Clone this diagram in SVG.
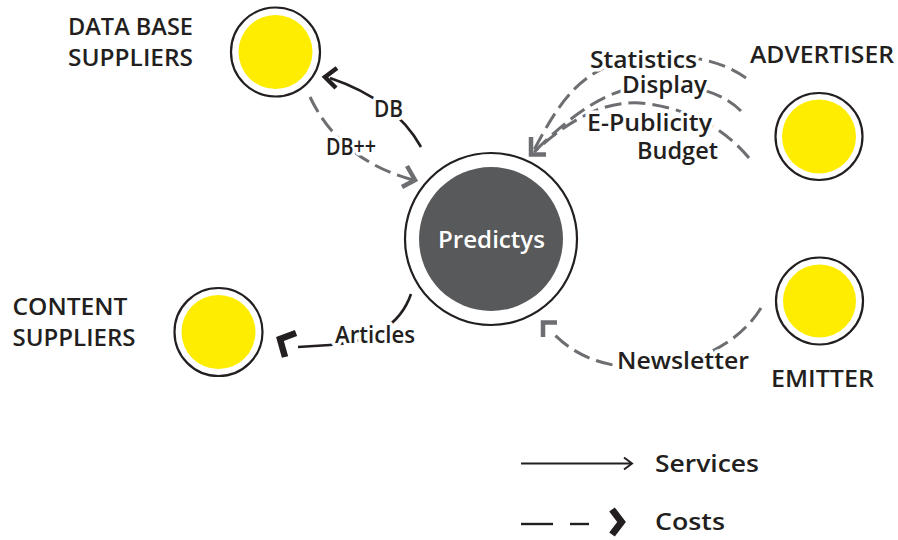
<svg xmlns="http://www.w3.org/2000/svg" width="898" height="540" viewBox="0 0 898 540">
<style>
  text { font-family: "Open Sans", "Noto Sans", "DejaVu Sans", sans-serif; font-weight: 600; fill: #231f20; }
  .lbl { font-size: 23px; }
  .halo { stroke: #ffffff; stroke-width: 7px; paint-order: stroke; stroke-linejoin: round; }
  .ring { fill: #ffffff; stroke: #231f20; stroke-width: 2.2; }
  .yel { fill: #ffed00; }
  .svc { fill: none; stroke: #231f20; stroke-width: 2.6; }
  .cost { fill: none; stroke: #6d6e71; stroke-width: 3; stroke-dasharray: 17 7; }
  .headG { fill: none; stroke: #6d6e71; stroke-width: 4.5; stroke-linejoin: miter; }
  .headK { fill: none; stroke: #231f20; stroke-width: 4.5; stroke-linejoin: miter; }
  .headB { fill: none; stroke: #231f20; stroke-width: 6.5; stroke-linejoin: miter; stroke-miterlimit: 10; }
</style>
<rect width="898" height="540" fill="#ffffff"/>

<g id="connectors">
  <!-- DB (service) -->
  <path class="svc" d="M421,147 Q395,100 330,78"/>
  <polyline class="headK" points="337,68 325,77 336,88"/>
  <!-- DB++ (cost) -->
  <path class="cost" d="M310,97 Q340,160 413,180"/>
  <polyline class="headG" points="407,166 415,180 402,187"/>
  <!-- Articles -->
  <path class="svc" d="M411,294 Q395,340 330,345 L298,347"/>
  <polyline class="headB" points="296,333 280,339 285,357"/>
  <!-- Advertiser arcs -->
  <path class="cost" d="M746,78 C715,55 660,50 620,62 C580,74 560,100 534,150"/>
  <path class="cost" d="M741,111 C725,95 700,85 660,85 C625,85 590,96 534,152"/>
  <path class="cost" d="M749,158 C730,135 700,112 650,104 C610,98 575,115 534,152"/>
  <polyline class="headG" points="531,137 531,154.5 546,154.5"/>
  <!-- Newsletter -->
  <path class="cost" d="M761,308 C735,350 680,372 620,366 C595,363 570,352 551,331"/>
  <polyline class="headG" points="543,337 543,322.5 557,322.5"/>
</g>

<g id="connector-labels">
  <text class="lbl halo" x="374" y="116.5" textLength="29" lengthAdjust="spacingAndGlyphs">DB</text>
  <text class="lbl halo" x="326" y="154.5" textLength="50" lengthAdjust="spacingAndGlyphs">DB++</text>
  <text class="lbl halo" x="335" y="343" textLength="80" lengthAdjust="spacingAndGlyphs">Articles</text>
  <text class="lbl halo" x="590" y="67.5" textLength="107" lengthAdjust="spacingAndGlyphs">Statistics</text>
  <text class="lbl halo" x="622" y="93" textLength="85" lengthAdjust="spacingAndGlyphs">Display</text>
  <text class="lbl halo" x="587" y="130.5" textLength="125" lengthAdjust="spacingAndGlyphs">E-Publicity</text>
  <text class="lbl halo" x="637" y="158.5" textLength="81" lengthAdjust="spacingAndGlyphs">Budget</text>
  <text class="lbl halo" x="617" y="368.5" textLength="132" lengthAdjust="spacingAndGlyphs">Newsletter</text>
</g>

<g id="node-predictys">
  <circle class="ring" cx="491" cy="239" r="86"/>
  <circle cx="491" cy="239" r="72" fill="#58595b"/>
  <text x="491.5" y="248" font-size="24" fill="#ffffff" style="fill:#ffffff" text-anchor="middle" textLength="107" lengthAdjust="spacingAndGlyphs">Predictys</text>
</g>

<g id="node-database-suppliers">
  <circle class="ring" cx="275.5" cy="52" r="44.5"/>
  <circle class="yel" cx="275.5" cy="52" r="37"/>
  <text class="lbl" x="68" y="35" textLength="125" lengthAdjust="spacingAndGlyphs">DATA BASE</text>
  <text class="lbl" x="68" y="66" textLength="125" lengthAdjust="spacingAndGlyphs">SUPPLIERS</text>
</g>

<g id="node-content-suppliers">
  <circle class="ring" cx="218.5" cy="332" r="44"/>
  <circle class="yel" cx="218.5" cy="332" r="37"/>
  <text class="lbl" x="12.5" y="315" textLength="115" lengthAdjust="spacingAndGlyphs">CONTENT</text>
  <text class="lbl" x="12.5" y="346" textLength="123" lengthAdjust="spacingAndGlyphs">SUPPLIERS</text>
</g>

<g id="node-advertiser">
  <circle class="ring" cx="819" cy="136.5" r="43.5"/>
  <circle class="yel" cx="819" cy="136.5" r="37"/>
  <text class="lbl" x="750" y="62.5" textLength="144" lengthAdjust="spacingAndGlyphs">ADVERTISER</text>
</g>

<g id="node-emitter">
  <circle class="ring" cx="819.5" cy="301" r="43.5"/>
  <circle class="yel" cx="819.5" cy="301" r="36.5"/>
  <text class="lbl" x="771" y="386.5" textLength="103" lengthAdjust="spacingAndGlyphs">EMITTER</text>
</g>

<g id="legend">
  <line x1="521" y1="463.5" x2="632" y2="463.5" stroke="#231f20" stroke-width="1.8"/>
  <polyline points="624,457.5 632,463.5 624,469.5" fill="none" stroke="#231f20" stroke-width="2"/>
  <text class="lbl" x="655" y="471.5" textLength="104" lengthAdjust="spacingAndGlyphs">Services</text>
  <line x1="521" y1="524" x2="553" y2="524" stroke="#231f20" stroke-width="2.4"/>
  <line x1="570" y1="524" x2="589" y2="524" stroke="#231f20" stroke-width="2.4"/>
  <polyline points="612,509.5 621.5,522 612,534.5" fill="none" stroke="#231f20" stroke-width="7" stroke-linejoin="miter"/>
  <text class="lbl" x="655" y="530" textLength="70" lengthAdjust="spacingAndGlyphs">Costs</text>
</g>
</svg>
